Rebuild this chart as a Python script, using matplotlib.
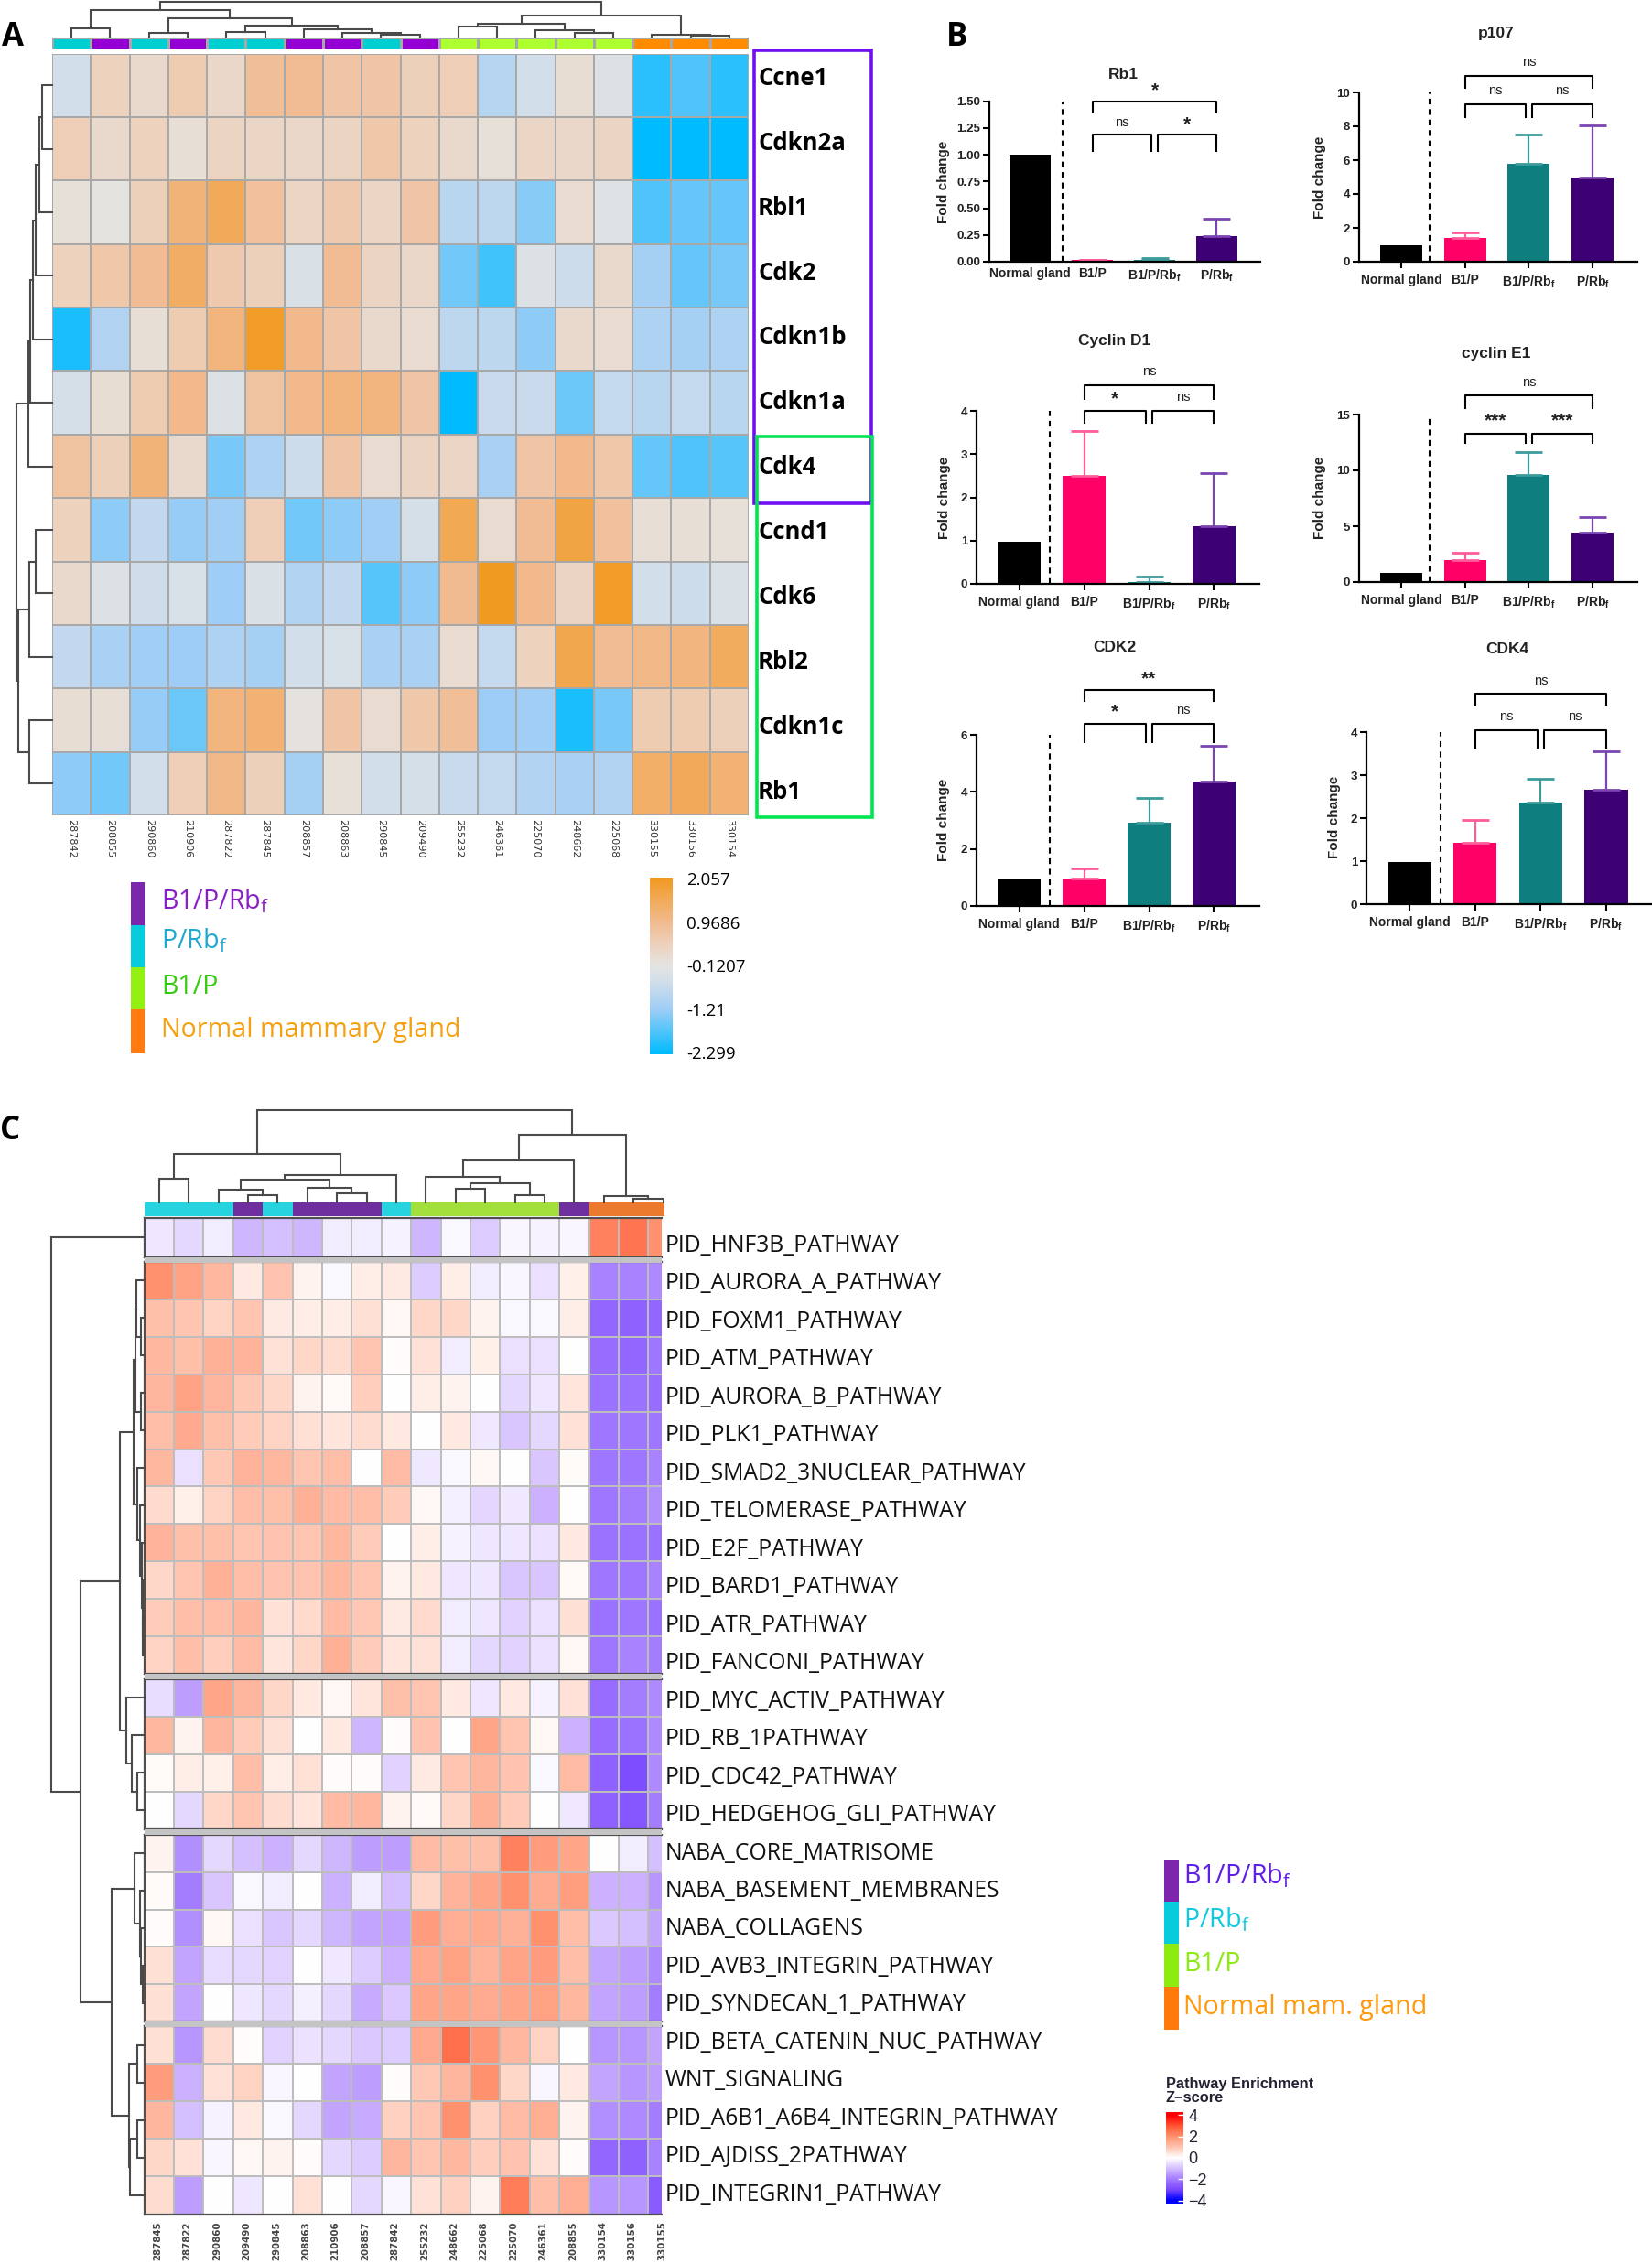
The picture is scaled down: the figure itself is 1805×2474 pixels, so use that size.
import numpy as np
import matplotlib
matplotlib.use("Agg")
import matplotlib.pyplot as plt
from matplotlib.colors import LinearSegmentedColormap, Normalize, ListedColormap
from matplotlib.patches import Rectangle

plt.rcParams['font.family'] = ['Liberation Sans', 'DejaVu Sans']
plt.rcParams['mathtext.default'] = 'regular'

W, H = 1805, 2474

# ---------- panel A data ----------
a_genes = ['Ccne1', 'Cdkn2a', 'Rbl1', 'Cdk2', 'Cdkn1b', 'Cdkn1a', 'Cdk4',
           'Ccnd1', 'Cdk6', 'Rbl2', 'Cdkn1c', 'Rb1']
a_samples = ['287842', '208855', '290860', '210906', '287822', '287845', '208857', '208863', '290845',
             '209490', '255232', '246361', '225070', '248662', '225068', '330155', '330156', '330154']
a_groups = [1, 0, 1, 0, 1, 1, 0, 0, 1, 0, 2, 2, 2, 2, 2, 3, 3, 3]
a_values = [
    [-0.5, 0.4, 0.2, 0.55, 0.25, 0.85, 0.9, 0.7, 0.7, 0.45, 0.5, -0.9, -0.5, 0.1, -0.3, -2.0, -1.75, -2.0],
    [0.5, 0.2, 0.4, 0.05, 0.35, 0.3, 0.25, 0.35, 0.65, 0.4, 0.2, 0.0, 0.3, 0.25, 0.35, -2.3, -2.3, -2.3],
    [0.0, -0.1, 0.45, 1.2, 1.5, 0.8, 0.3, 0.6, 0.3, 0.7, -0.85, -0.8, -1.35, 0.15, -0.25, -1.75, -1.6, -1.6],
    [0.4, 0.65, 0.9, 1.4, 0.6, 0.45, -0.35, 0.9, 0.35, 0.25, -1.5, -1.85, -0.3, -0.6, 0.2, -1.1, -1.6, -1.45],
    [-2.1, -0.95, 0.05, 0.55, 1.15, 2.0, 1.0, 0.7, 0.2, 0.15, -0.8, -0.8, -1.3, 0.2, 0.15, -1.0, -1.1, -1.0],
    [-0.45, 0.1, 0.55, 1.0, -0.3, 0.75, 1.0, 1.15, 1.15, 0.7, -2.3, -0.65, -0.65, -1.55, -0.7, -0.85, -0.7, -0.85],
    [0.75, 0.45, 1.2, 0.2, -1.45, -1.0, -0.6, 0.7, 0.15, 0.35, 0.3, -1.05, 0.7, 1.0, 0.65, -1.6, -1.75, -1.7],
    [0.4, -1.3, -0.75, -1.25, -1.15, 0.5, -1.5, -1.3, -1.15, -0.45, 1.55, 0.15, 0.9, 1.7, 0.8, 0.05, 0.05, 0.0],
    [0.2, -0.3, -0.55, -0.4, -1.2, -0.35, -0.95, -0.75, -1.7, -1.3, 0.95, 2.05, 1.0, 0.35, 2.0, -0.5, -0.6, -0.35],
    [-0.75, -1.05, -1.15, -1.2, -1.0, -1.1, -0.5, -0.4, -1.05, -1.05, 0.15, -0.7, 0.4, 1.6, 0.9, 1.05, 1.15, 1.45],
    [0.1, 0.05, -1.25, -1.55, 1.15, 1.25, -0.05, 0.7, 0.15, 0.65, 0.85, -1.2, -1.15, -2.1, -1.45, 0.55, 0.55, 0.45],
    [-1.3, -1.5, -0.5, 0.5, 1.05, 0.45, -1.1, 0.0, -0.5, -0.45, -0.65, -0.7, -0.95, -1.05, -0.95, 1.35, 1.5, 1.25],
]
a_ticks = [2.057, 0.9686, -0.1207, -1.21, -2.299]
a_tick_labels = ['2.057', '0.9686', '-0.1207', '-1.21', '-2.299']

# dendrogram merges: (node, node, height), nodes past the leaves are earlier merges
a_col_tree = [(0, 1, 9), (2, 3, 4), (4, 5, 5), (8, 9, 1.5), (7, 21, 3.3), (6, 22, 7.3), (20, 23, 12),
              (19, 24, 20), (18, 25, 29), (10, 11, 11), (13, 14, 4), (12, 28, 7), (27, 29, 13.3),
              (16, 17, 0.6), (15, 31, 1.2), (30, 32, 23), (26, 33, 38)]
a_row_tree = [(0, 1, 11), (12, 2, 14), (13, 3, 18), (14, 4, 21.5), (15, 5, 24), (16, 6, 26),
              (7, 8, 18.4), (18, 9, 25), (10, 11, 25), (19, 20, 37), (17, 21, 39)]

# ---------- panel B data ----------
b_groups = ['Normal gland', 'B1/P', 'B1/P/Rb$_f$', 'P/Rb$_f$']
rb1_mean = [1.0, 0.015, 0.02, 0.24]
rb1_err = [0, 0.005, 0.012, 0.16]
p107_mean = [1.0, 1.4, 5.8, 5.0]
p107_err = [0, 0.33, 1.7, 3.05]
cycd1_mean = [0.97, 2.5, 0.05, 1.33]
cycd1_err = [0, 1.03, 0.12, 1.24]
cyce1_mean = [0.85, 1.95, 9.6, 4.45]
cyce1_err = [0, 0.65, 2.0, 1.35]
cdk2_mean = [0.97, 0.95, 2.93, 4.35]
cdk2_err = [0, 0.36, 0.86, 1.28]
cdk4_mean = [0.97, 1.42, 2.36, 2.65]
cdk4_err = [0, 0.53, 0.56, 0.91]

# ---------- panel C data ----------
c_pathways = ['PID_HNF3B_PATHWAY', 'PID_AURORA_A_PATHWAY', 'PID_FOXM1_PATHWAY', 'PID_ATM_PATHWAY',
              'PID_AURORA_B_PATHWAY', 'PID_PLK1_PATHWAY', 'PID_SMAD2_3NUCLEAR_PATHWAY',
              'PID_TELOMERASE_PATHWAY', 'PID_E2F_PATHWAY', 'PID_BARD1_PATHWAY', 'PID_ATR_PATHWAY',
              'PID_FANCONI_PATHWAY', 'PID_MYC_ACTIV_PATHWAY', 'PID_RB_1PATHWAY', 'PID_CDC42_PATHWAY',
              'PID_HEDGEHOG_GLI_PATHWAY', 'NABA_CORE_MATRISOME', 'NABA_BASEMENT_MEMBRANES', 'NABA_COLLAGENS',
              'PID_AVB3_INTEGRIN_PATHWAY', 'PID_SYNDECAN_1_PATHWAY', 'PID_BETA_CATENIN_NUC_PATHWAY',
              'WNT_SIGNALING', 'PID_A6B1_A6B4_INTEGRIN_PATHWAY', 'PID_AJDISS_2PATHWAY', 'PID_INTEGRIN1_PATHWAY']
c_samples = ['287845', '287822', '290860', '209490', '290845', '208863', '210906', '208857', '287842',
             '255232', '248662', '225068', '225070', '246361', '208855', '330154', '330156', '330155']
c_groups = [1, 1, 1, 0, 1, 0, 0, 0, 1, 2, 2, 2, 2, 2, 0, 3, 3, 3]
c_values = [
    [-0.4, -0.6, -0.3, -1.1, -1.0, -1.1, -0.3, -0.3, -0.2, -1.1, -0.1, -0.8, -0.15, -0.2, -0.15, 2.3, 2.5, 2.0],
    [2.0, 1.7, 1.25, 0.4, 1.05, 0.2, -0.1, 0.3, 0.35, -0.8, 0.3, -0.3, -0.15, -0.5, 0.25, -1.9, -1.9, -1.8],
    [1.1, 1.0, 0.75, 1.0, 0.35, 0.3, 0.3, 0.55, 0.15, 0.7, 0.7, 0.2, -0.1, -0.1, 0.3, -2.4, -2.5, -2.4],
    [1.25, 1.1, 1.4, 1.35, 0.5, 0.7, 0.6, 1.0, 0.05, 0.5, -0.3, 0.25, -0.5, -0.5, 0.0, -2.3, -2.4, -2.1],
    [1.3, 1.7, 1.3, 0.95, 0.7, 0.2, 0.1, 0.85, 0.0, 0.3, 0.2, 0.03, -0.6, -0.4, 0.45, -2.2, -2.2, -2.3],
    [1.15, 1.55, 1.1, 0.9, 0.75, 0.55, 0.45, 0.6, 0.4, 0.03, 0.4, -0.35, -0.9, -0.6, 0.5, -2.1, -2.1, -2.1],
    [1.25, -0.5, 0.95, 1.35, 1.25, 1.0, 1.15, 0.02, 1.2, -0.35, -0.1, 0.15, 0.0, -0.9, 0.08, -2.1, -2.1, -1.9],
    [0.65, 0.25, 0.75, 1.15, 1.1, 1.4, 1.2, 1.15, 0.9, 0.15, -0.25, -0.65, -0.35, -1.2, 0.0, -2.1, -2.0, -1.7],
    [1.35, 1.1, 1.1, 1.0, 1.05, 1.0, 1.25, 0.9, 0.02, 0.3, -0.2, -0.4, -0.4, -0.45, 0.4, -2.2, -2.2, -2.2],
    [0.7, 1.0, 1.4, 1.15, 1.05, 1.05, 1.25, 1.0, 0.2, 0.4, -0.4, -0.4, -0.9, -0.9, 0.1, -2.1, -2.1, -1.9],
    [0.9, 1.15, 1.15, 1.3, 0.5, 0.65, 1.2, 0.95, 0.35, 0.65, -0.3, -0.4, -0.7, -0.5, 0.55, -2.2, -2.1, -2.2],
    [0.75, 1.15, 0.85, 1.2, 0.45, 0.7, 1.4, 0.9, 0.45, 0.5, -0.3, -0.6, -0.7, -0.5, 0.15, -2.1, -1.9, -2.0],
    [-0.55, -1.5, 1.6, 1.3, 0.7, 0.4, 0.15, 0.45, 1.1, 1.0, 0.4, -0.4, 0.4, -0.2, 0.5, -2.3, -2.0, -1.8],
    [1.25, 0.2, 1.3, 0.9, 0.55, 0.03, 0.4, -1.1, 0.05, 1.05, 0.0, 1.6, 1.0, 0.15, -1.2, -2.3, -2.2, -1.8],
    [0.07, 0.3, 0.25, 1.15, 0.3, 0.5, 0.05, 0.04, -0.7, 0.35, 1.0, 1.3, 1.05, -0.1, 1.2, -2.5, -2.9, -1.8],
    [0.0, -0.6, 0.7, 1.0, 0.6, 0.45, 1.2, 1.25, 0.2, 0.1, 0.7, 1.4, 0.9, 0.01, -0.35, -2.5, -2.7, -2.0],
    [0.2, -1.7, -0.6, -1.0, -1.2, -0.6, -1.1, -1.5, -1.5, 1.2, 1.1, 1.1, 2.3, 1.8, 1.6, 0.0, -0.3, -1.0],
    [0.08, -2.0, -0.9, -0.1, -0.3, 0.03, -1.2, -0.3, -1.0, 0.7, 1.35, 1.6, 2.0, 1.5, 1.75, -1.2, -1.2, -1.6],
    [0.05, -1.7, 0.15, -0.5, -0.9, -0.6, -1.1, -1.4, -1.4, 1.8, 1.45, 1.5, 1.4, 2.0, 1.15, -0.85, -1.0, -1.4],
    [0.55, -1.4, -0.55, -0.6, -0.7, 0.02, -0.35, -0.8, -1.2, 1.55, 1.7, 1.35, 1.65, 1.8, 1.15, -1.35, -1.5, -1.8],
    [0.55, -1.4, 0.01, -0.4, -0.6, -0.25, -0.6, -1.3, -0.85, 1.6, 1.6, 1.5, 1.6, 1.7, 1.25, -1.4, -1.5, -2.0],
    [0.55, -1.6, 0.6, 0.05, -0.7, -0.45, -0.6, -0.85, -0.8, 1.55, 2.6, 1.9, 1.25, 0.75, 0.01, -1.6, -1.6, -1.4],
    [1.8, -1.2, 0.5, 0.75, -0.15, 0.0, -1.4, -1.5, 0.05, 0.95, 1.3, 2.0, 0.7, -0.15, 0.4, -1.4, -1.6, -1.5],
    [1.3, -1.0, -0.2, 0.4, -0.1, -0.6, -1.4, -1.3, 0.8, 1.0, 2.0, 0.8, 1.2, 1.45, 0.2, -1.7, -1.8, -2.0],
    [0.7, 0.5, -0.15, 0.15, 0.2, 0.05, -0.6, -0.8, 1.3, 1.0, 1.25, 0.85, 1.05, 0.5, 0.05, -2.4, -2.5, -1.9],
    [0.6, -1.5, 0.0, -0.4, 0.01, 0.5, 0.0, -0.6, -0.15, 0.5, 0.8, 0.2, 2.4, 1.15, 1.45, -1.6, -1.6, -2.6],
]
c_blocks = [1, 11, 4, 5, 5]
c_col_tree = [(0, 1, 25.7), (3, 4, 7.3), (2, 19, 13.5), (6, 7, 9.4), (5, 21, 15.5), (20, 22, 24.5), (8, 23, 30),
              (18, 24, 53), (10, 11, 14.7), (12, 13, 7.3), (26, 27, 20.4), (9, 28, 27.8), (14, 29, 46),
              (16, 17, 3.2), (15, 31, 6.5), (30, 32, 73.5), (25, 33, 101)]
c_row_tree = [(2, 3, 3.4), (1, 26, 8.2), (4, 5, 4), (27, 28, 9.5), (10, 11, 1.5), (9, 30, 2), (8, 31, 3),
              (7, 32, 5), (6, 33, 8), (29, 34, 12),
              (14, 15, 8), (13, 36, 13.6), (12, 37, 19.4), (35, 38, 26.7),
              (19, 20, 1.5), (18, 40, 4), (17, 41, 5), (16, 42, 10.5),
              (21, 22, 8), (23, 24, 8), (45, 25, 15.5), (44, 46, 17), (43, 47, 36),
              (39, 48, 70), (0, 49, 102)]

fig = plt.figure(figsize=(W / 100, H / 100), dpi=100, facecolor='white')


def px_axes(x0, y0, x1, y1, **kw):
    """Axes placed by its pixel box in the reference."""
    return fig.add_axes([x0 / W, 1 - y1 / H, (x1 - x0) / W, (y1 - y0) / H], **kw)


# overlay in picture pixels, for labels, frames and dendrograms
canvas = px_axes(0, 0, W, H, zorder=10)
canvas.set_xlim(0, W)
canvas.set_ylim(H, 0)
canvas.axis('off')
canvas.patch.set_alpha(0)


def draw_tree(leaf_pos, tree, base, vertical_leaves, color='#4a4a4a', lw=1.5):
    """Draw merges as square links; leaves sit at leaf_pos, heights grow away from base."""
    pos = list(leaf_pos)
    hgt = [0.0] * len(pos)
    for a, b, h in tree:
        pa, pb = pos[a], pos[b]
        ha, hb = hgt[a], hgt[b]
        if vertical_leaves:
            canvas.plot([base - ha, base - h, base - h, base - hb], [pa, pa, pb, pb],
                        color=color, lw=lw, solid_joinstyle='miter')
        else:
            canvas.plot([pa, pa, pb, pb], [base - ha, base - h, base - h, base - hb],
                        color=color, lw=lw, solid_joinstyle='miter')
        pos.append((pa + pb) / 2)
        hgt.append(h)


def stacked_legend(x0, x1, edges, colors, labels, text_x, text_y, text_colors, fontsize):
    for i in range(len(colors)):
        canvas.add_patch(Rectangle((x0, edges[i]), x1 - x0, edges[i + 1] - edges[i], fc=colors[i], ec='none'))
        canvas.text(text_x, text_y[i], labels[i], color=text_colors[i], fontsize=fontsize,
                    family='Open Sans', va='center', ha='left')


# ---------- panel A ----------
a_stops = [(-2.299, '#00BBFF'), (-1.21, '#9DCDF6'), (-0.55, '#D0DDEA'), (-0.1207, '#E4E4E2'),
           (0.4, '#EDD2BE'), (0.9686, '#F1BA8F'), (2.057, '#F19A22')]
a_norm = Normalize(-2.299, 2.057)
a_cmap = LinearSegmentedColormap.from_list('a', [(a_norm(v), c) for v, c in a_stops])

ax = px_axes(57, 58.7, 818, 891)
ax.pcolormesh(np.array(a_values), cmap=a_cmap, norm=a_norm, edgecolors='#a8a8a8', linewidth=1.3)
ax.set_ylim(12, 0)
ax.axis('off')

ax = px_axes(57, 41, 818, 54)
ax.pcolormesh(np.array(a_groups)[None, :], cmap=ListedColormap(['#9400D3', '#00CED1', '#ADFF2F', '#FF8C00']),
              vmin=0, vmax=3, edgecolors='#a8a8a8', linewidth=1)
ax.axis('off')

a_col_w = (818 - 57) / 18
a_row_h = (891 - 58.7) / 12
a_col_pos = [57 + a_col_w * (i + 0.5) for i in range(18)]
a_row_pos = [58.7 + a_row_h * (i + 0.5) for i in range(12)]
draw_tree(a_col_pos, a_col_tree, 39.5, False)
draw_tree(a_row_pos, a_row_tree, 57, True)

for i, name in enumerate(a_genes):
    canvas.text(828, 85.4 + 70.9 * i, name, fontsize=18.5, fontweight='bold', family='Open Sans',
                va='center', ha='left', color='black')
for name, x in zip(a_samples, a_col_pos):
    canvas.text(x, 895, name, fontsize=8, family='DejaVu Sans', rotation=-90, va='top', ha='center', color='#333333')

canvas.add_patch(Rectangle((824, 54.5), 128, 495, fc='none', ec='#7010F0', lw=2.6))
canvas.add_patch(Rectangle((827, 477), 126, 416, fc='none', ec='#00E650', lw=2.6))

stacked_legend(143, 158, [964, 1011, 1057, 1103, 1151], ['#7B26AD', '#06CCDC', '#94F010', '#FF7A10'],
               ['B1/P/Rb$_f$', 'P/Rb$_f$', 'B1/P', 'Normal mammary gland'], 176, [985, 1028, 1078, 1126],
               ['#8A1FC8', '#1FA9D0', '#33CC11', '#F5A011'], 20.6)

ax = px_axes(710, 959, 735, 1152)
ax.pcolormesh([0, 1], np.linspace(-2.299, 2.057, 200), np.linspace(-2.299, 2.057, 199)[:, None],
              cmap=a_cmap, norm=a_norm)
ax.set_xticks([])
ax.yaxis.tick_right()
ax.set_yticks(np.array(a_ticks) * 0.985, a_tick_labels, fontsize=13.5, family='Open Sans')
ax.tick_params(axis='y', length=0, pad=11)
for s in ax.spines.values():
    s.set_visible(False)

# ---------- panel B ----------
bar_colors = ['black', '#FF0066', '#0E7F7E', '#3E0075']
err_colors = ['black', '#FF5C99', '#3C9C9B', '#7A45B0']


def bar_panel(box, mean, err, ticks, ticklabels, title, title_xy, ylabel_xy, dash_x, brackets, mark_len=5):
    x0, y0, x1, y1 = box
    ax = px_axes(x0, y0, x1, y1)
    xs = np.arange(4)
    ax.bar(xs, mean, width=0.66, color=bar_colors)
    for x, m, e, c in zip(xs, mean, err, err_colors):
        if e > 0:
            ax.errorbar(x, m, yerr=[[0], [e]], color=c, capsize=11, capthick=2, elinewidth=1.6)
    ax.axvline(dash_x, ymin=0, ymax=1, color='black', ls=(0, (3, 2.5)), lw=1.5)
    ax.set_xlim(-0.66, 3.7)
    ax.set_ylim(0, ticks[-1])
    ax.set_xticks(xs, b_groups, fontsize=10, fontweight='bold', color='#222222')
    ax.set_yticks(ticks, ticklabels, fontsize=9.5, fontweight='bold', color='#222222')
    ax.tick_params(axis='x', length=mark_len, width=1.5, pad=4.5)
    ax.tick_params(axis='y', length=5, width=1.5, pad=2)
    ax.spines[['top', 'right']].set_visible(False)
    ax.spines[['left', 'bottom']].set_linewidth(1.6)
    for bx0, bx1, top, drop, label, label_y in brackets:
        ax.plot([bx0, bx0, bx1, bx1], [drop, top, top, drop], color='black', lw=1.5, clip_on=False, zorder=5)
        size = 15 if '*' in label else 10.5
        ax.text((bx0 + bx1) / 2, label_y, label, ha='center', va='center', fontsize=size,
                fontweight='bold' if '*' in label else 'normal', color='#222222', clip_on=False)
    canvas.text(title_xy[0], title_xy[1], title, fontsize=12.5, fontweight='bold', ha='center', va='center', color='#222222')
    canvas.text(ylabel_xy[0], ylabel_xy[1], 'Fold change', fontsize=11, fontweight='bold', rotation=90,
                ha='center', va='center', color='#222222')


bar_panel((1081, 110.6, 1377, 286), rb1_mean, rb1_err, [0, 0.25, 0.5, 0.75, 1.0, 1.25, 1.5],
          ['0.00', '0.25', '0.50', '0.75', '1.00', '1.25', '1.50'], 'Rb1', (1227, 82), (1031, 199), 0.515,
          [(1, 3, 1.5, 1.39, '*', 1.60), (1, 1.95, 1.185, 1.037, 'ns', 1.30), (2.05, 3, 1.185, 1.037, '*', 1.28)], mark_len=0)
bar_panel((1485, 101, 1789, 286), p107_mean, p107_err, [0, 2, 4, 6, 8, 10],
          ['0', '2', '4', '6', '8', '10'], 'p107', (1635, 36), (1442, 194), 0.45,
          [(1, 3, 11.0, 10.25, 'ns', 11.8), (1, 1.95, 9.3, 8.55, 'ns', 10.1), (2.05, 3, 9.3, 8.55, 'ns', 10.1)])
bar_panel((1067, 449, 1376, 638), cycd1_mean, cycd1_err, [0, 1, 2, 3, 4],
          ['0', '1', '2', '3', '4'], 'Cyclin D1', (1218, 372), (1032, 544), 0.47,
          [(1, 3, 4.6, 4.27, 'ns', 4.9), (1, 1.95, 4.0, 3.73, '*', 4.28), (2.05, 3, 4.0, 3.73, 'ns', 4.32)])
bar_panel((1485, 453, 1789, 636), cyce1_mean, cyce1_err, [0, 5, 10, 15],
          ['0', '5', '10', '15'], 'cyclin E1', (1635, 387), (1442, 544), 0.45,
          [(1, 3, 16.7, 15.55, 'ns', 17.9), (1, 1.95, 13.3, 12.5, '***', 14.4), (2.05, 3, 13.3, 12.5, '***', 14.4)])
bar_panel((1067, 803, 1376, 990), cdk2_mean, cdk2_err, [0, 2, 4, 6],
          ['0', '2', '4', '6'], 'CDK2', (1218, 707), (1031, 896), 0.47,
          [(1, 3, 7.56, 7.2, '**', 7.95), (1, 1.95, 6.38, 5.74, '*', 6.8), (2.05, 3, 6.38, 5.74, 'ns', 6.86)])
bar_panel((1493, 800, 1805, 988), cdk4_mean, cdk4_err, [0, 1, 2, 3, 4],
          ['0', '1', '2', '3', '4'], 'CDK4', (1647, 710), (1458, 893), 0.466,
          [(1, 3, 4.89, 4.64, 'ns', 5.2), (1, 1.95, 4.04, 3.64, 'ns', 4.36), (2.05, 3, 4.04, 3.64, 'ns', 4.36)])

# ---------- panel C ----------
c_stops = [(-4, '#0000FF'), (-3, '#7A48FF'), (-2, '#A47CFF'), (-1, '#D5BFFF'), (0, '#FFFFFF'),
           (1, '#FFC6B2'), (2, '#FF9270'), (3, '#FF5A35'), (4, '#FF0000')]
c_norm = Normalize(-4, 4)
c_cmap = LinearSegmentedColormap.from_list('c', [(c_norm(v), col) for v, col in c_stops])

c_arr = np.array(c_values)
c_col_w = 32.4
c_left, c_right = 157.5, 723
c_xmax = (c_right - c_left) / c_col_w
c_tops = [1331, 1379, 1835, 2005, 2214]
c_bottoms = [1373.5, 1829, 1998.5, 2209, 2419.5]
c_row_pos = []
start = 0
for n, top, bottom in zip(c_blocks, c_tops, c_bottoms):
    ax = px_axes(c_left, top, c_right, bottom)
    ax.pcolormesh(c_arr[start:start + n], cmap=c_cmap, norm=c_norm, edgecolors='#bdbdbd', linewidth=1.3)
    ax.set_xlim(0, c_xmax)
    ax.set_ylim(n, 0)
    ax.set_xticks([])
    ax.set_yticks([])
    ax.spines['right'].set_visible(False)
    ax.spines[['left', 'top', 'bottom']].set_linewidth(1.6)
    ax.spines[['left', 'top', 'bottom']].set_color('#4f4f4f')
    c_row_pos += [top + (bottom - top) * (i + 0.5) / n for i in range(n)]
    start += n
    # grey band between blocks
    if bottom < 2400:
        canvas.add_patch(Rectangle((c_left, bottom), c_right - c_left, 6, fc='#c4c4c4', ec='none'))

ax = px_axes(c_left, 1314, 725.6, 1329)
ax.pcolormesh(np.array(c_groups)[None, :], cmap=ListedColormap(['#6F2E9E', '#27D3DF', '#A3DF3A', '#EC7A2E']),
              vmin=0, vmax=3)
ax.set_xlim(0, 568.1 / c_col_w)
ax.axis('off')

c_col_pos = [c_left + c_col_w * (i + 0.5) for i in range(18)]
draw_tree(c_col_pos, c_col_tree, 1313.5, False)
draw_tree(c_row_pos, c_row_tree, c_left, True)

for i, name in enumerate(c_pathways):
    canvas.text(727, 1361.5 + 41.47 * i, name, fontsize=17.8, family='Open Sans', va='center', ha='left', color='#111111')
for name, x in zip(c_samples, c_col_pos):
    canvas.text(x - 1.5, 2470, name, fontsize=7.4, fontweight='bold', family='DejaVu Sans', rotation=90,
                va='bottom', ha='center', color='#444444')

stacked_legend(1272, 1288, [2032, 2078, 2124, 2171, 2218], ['#7B26AD', '#06CCDC', '#8CEB10', '#FF7A0A'],
               ['B1/P/Rb$_f$', 'P/Rb$_f$', 'B1/P', 'Normal mam. gland'], 1293, [2050, 2098, 2147, 2193],
               ['#5F1FE8', '#10C8E0', '#8CEB10', '#FF9A10'], 20.6)

canvas.text(1274, 2285, 'Pathway Enrichment\nZ\u2212score', fontsize=11.8, fontweight='bold', va='center', ha='left',
            color='#222233', linespacing=1.05)
ax = px_axes(1274, 2308, 1293, 2408)
ax.pcolormesh([0, 1], np.linspace(-4.3, 4.3, 200), np.linspace(-4.3, 4.3, 199)[:, None], cmap=c_cmap, norm=c_norm)
ax.set_xticks([])
ax.yaxis.tick_right()
ax.set_yticks([-4, -2, 0, 2, 4], ['\u22124', '\u22122', '0', '2', '4'], fontsize=13, color='#222233')
ax.tick_params(axis='y', length=4, width=1, color='white', direction='in', pad=4)
for s in ax.spines.values():
    s.set_visible(False)

# panel letters
canvas.text(2, 41, 'A', fontsize=25, fontweight='bold', family='Open Sans', va='center', ha='left')
canvas.text(1034, 41, 'B', fontsize=25, fontweight='bold', family='Open Sans', va='center', ha='left')
canvas.text(0, 1236, 'C', fontsize=25, fontweight='bold', family='Open Sans', va='center', ha='left')

fig.savefig('out.png', dpi=100, facecolor='white')
